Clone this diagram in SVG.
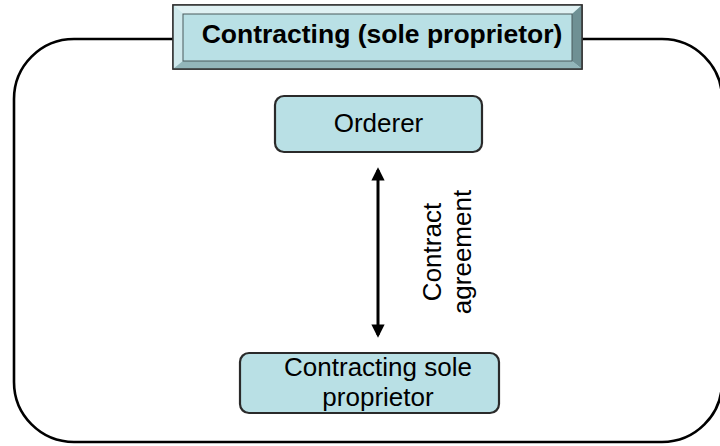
<svg xmlns="http://www.w3.org/2000/svg" width="720" height="446" viewBox="0 0 720 446">
  <style>
    .frame { fill: none; stroke: #000; stroke-width: 2.6; }
    .box { fill: #b9e0e5; stroke: #2a2a2a; stroke-width: 2.2; }
    .label { font-family: "Liberation Sans", Arial, sans-serif; font-size: 26px; fill: #000; }
    .title { font-family: "Liberation Sans", Arial, sans-serif; font-size: 26.5px; font-weight: bold; fill: #000; }
    .link { stroke: #000; stroke-width: 3; fill: none; }
  </style>
  <defs>
    <marker id="head" viewBox="0 0 10 10" refX="8" refY="5" markerWidth="4.4" markerHeight="4.6" orient="auto-start-reverse" markerUnits="strokeWidth">
      <path d="M0,0 L10,5 L0,10 z" fill="#000"/>
    </marker>
  </defs>

  <rect x="0" y="0" width="720" height="446" fill="#fff"/>

  <!-- outer rounded frame -->
  <rect class="frame" x="14" y="39" width="708" height="403" rx="60" ry="60"/>

  <!-- bevelled title plate -->
  <g id="title">
    <rect x="173" y="5" width="409" height="64" fill="#b9e0e5" stroke="#333" stroke-width="1.5"/>
    <polygon points="173,5 582,5 572,14 183,14" fill="#dff1f3"/>
    <polygon points="173,5 183,14 183,61 173,69" fill="#cfe9ec"/>
    <polygon points="582,5 572,14 572,61 582,69" fill="#6f9094"/>
    <polygon points="173,69 183,61 572,61 582,69" fill="#93b6ba"/>
    <rect x="183" y="14" width="389" height="47" fill="#b9e0e5" stroke="#4a5a5c" stroke-width="1"/>
    <rect x="173" y="5" width="409" height="64" fill="none" stroke="#333" stroke-width="1.5"/>
    <text class="title" x="382" y="43" text-anchor="middle">Contracting (sole proprietor)</text>
  </g>

  <g id="orderer">
    <rect class="box" x="275" y="96" width="207" height="56" rx="9" ry="9"/>
    <text class="label" x="378.5" y="132" text-anchor="middle">Orderer</text>
  </g>

  <g id="contractor">
    <rect class="box" x="240" y="353" width="259" height="60" rx="9" ry="9"/>
    <text class="label" x="378" y="376" text-anchor="middle">Contracting sole</text>
    <text class="label" x="378" y="406" text-anchor="middle">proprietor</text>
  </g>

  <g id="connectors">
    <line class="link" x1="378" y1="170" x2="378" y2="335" marker-start="url(#head)" marker-end="url(#head)"/>
    <g transform="translate(441,252) rotate(-90)">
      <text class="label" x="0" y="0" text-anchor="middle">Contract</text>
      <text class="label" x="0" y="30" text-anchor="middle">agreement</text>
    </g>
  </g>
</svg>
